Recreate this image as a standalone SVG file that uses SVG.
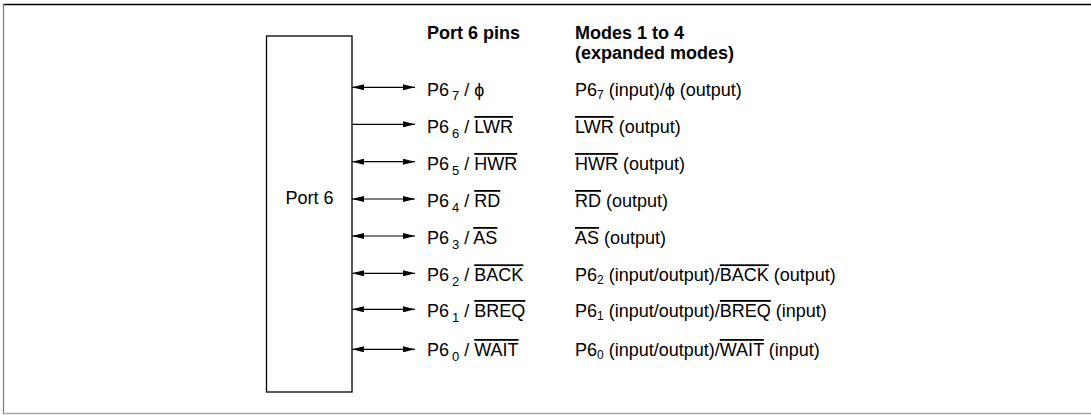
<svg xmlns="http://www.w3.org/2000/svg" width="1091" height="415" viewBox="0 0 1091 415">
  <style>
    text { font-family: "Liberation Sans", Arial, sans-serif; font-size: 18px; fill: #000; }
    .b { font-weight: bold; }
    .sub { font-size: 13px; }
    .sub2 { font-size: 12px; }
    .ol { text-decoration: overline; }
    .wire { stroke: #000; stroke-width: 1.2; fill: none; }
  </style>
  <defs>
    <marker id="ah" viewBox="0 0 12 6" refX="12" refY="3" markerWidth="12" markerHeight="6" markerUnits="userSpaceOnUse" orient="auto-start-reverse">
      <path d="M0,0 L12,3 L0,6 z" fill="#000"/>
    </marker>
  </defs>
  <rect width="1091" height="415" fill="#fff"/>
  <g id="frame">
    <line x1="3" y1="4.5" x2="1091" y2="4.5" stroke="#000" stroke-width="1.3"/>
    <line x1="3.5" y1="4" x2="3.5" y2="414" stroke="#808080" stroke-width="1.3"/>
    <line x1="3" y1="413.5" x2="1091" y2="413.5" stroke="#a8a8a8" stroke-width="1.3"/>
  </g>
  <g id="port6">
    <rect x="266.5" y="36" width="85.5" height="356" fill="none" stroke="#000" stroke-width="1.3"/>
    <text x="309.5" y="204" text-anchor="middle">Port 6</text>
  </g>
  <g id="headers">
    <text class="b" x="427" y="39">Port 6 pins</text>
    <text class="b" x="575" y="39">Modes 1 to 4</text>
    <text class="b" x="575" y="59">(expanded modes)</text>
  </g>
  <g id="connectors">
    <line class="wire" x1="352" y1="87.3" x2="415" y2="87.3" marker-start="url(#ah)" marker-end="url(#ah)"/>
    <line class="wire" x1="352" y1="124.3" x2="415" y2="124.3" marker-end="url(#ah)"/>
    <line class="wire" x1="352" y1="161.7" x2="415" y2="161.7" marker-start="url(#ah)" marker-end="url(#ah)"/>
    <line class="wire" x1="352" y1="199" x2="415" y2="199" marker-start="url(#ah)" marker-end="url(#ah)"/>
    <line class="wire" x1="352" y1="236" x2="415" y2="236" marker-start="url(#ah)" marker-end="url(#ah)"/>
    <line class="wire" x1="352" y1="273.3" x2="415" y2="273.3" marker-start="url(#ah)" marker-end="url(#ah)"/>
    <line class="wire" x1="352" y1="309.3" x2="415" y2="309.3" marker-start="url(#ah)" marker-end="url(#ah)"/>
    <line class="wire" x1="352" y1="349.3" x2="415" y2="349.3" marker-start="url(#ah)" marker-end="url(#ah)"/>
  </g>
  <g id="pins">
    <text x="427" y="95.5">P6<tspan class="sub" dx="3" dy="4.5">7</tspan><tspan dy="-4.5"> / ϕ</tspan></text>
    <text x="427" y="133">P6<tspan class="sub" dx="3" dy="4.5">6</tspan><tspan dy="-4.5"> / </tspan><tspan class="ol">LWR</tspan></text>
    <text x="427" y="170">P6<tspan class="sub" dx="3" dy="4.5">5</tspan><tspan dy="-4.5"> / </tspan><tspan class="ol">HWR</tspan></text>
    <text x="427" y="207">P6<tspan class="sub" dx="3" dy="4.5">4</tspan><tspan dy="-4.5"> / </tspan><tspan class="ol">RD</tspan></text>
    <text x="427" y="244">P6<tspan class="sub" dx="3" dy="4.5">3</tspan><tspan dy="-4.5"> / </tspan><tspan class="ol">AS</tspan></text>
    <text x="427" y="281.3">P6<tspan class="sub" dx="3" dy="4.5">2</tspan><tspan dy="-4.5"> / </tspan><tspan class="ol">BACK</tspan></text>
    <text x="427" y="317">P6<tspan class="sub" dx="3" dy="4.5">1</tspan><tspan dy="-4.5"> / </tspan><tspan class="ol">BREQ</tspan></text>
    <text x="427" y="356">P6<tspan class="sub" dx="3" dy="4.5">0</tspan><tspan dy="-4.5"> / </tspan><tspan class="ol">WAIT</tspan></text>
  </g>
  <g id="modes">
    <text x="575" y="95.5">P6<tspan class="sub2" dy="3">7</tspan><tspan dy="-3"> (input)/ϕ (output)</tspan></text>
    <text x="575" y="133"><tspan class="ol">LWR</tspan> (output)</text>
    <text x="575" y="170"><tspan class="ol">HWR</tspan> (output)</text>
    <text x="575" y="207"><tspan class="ol">RD</tspan> (output)</text>
    <text x="575" y="244"><tspan class="ol">AS</tspan> (output)</text>
    <text x="575" y="281.3">P6<tspan class="sub2" dy="3">2</tspan><tspan dy="-3"> (input/output)/</tspan><tspan class="ol">BACK</tspan> (output)</text>
    <text x="575" y="317">P6<tspan class="sub2" dy="3">1</tspan><tspan dy="-3"> (input/output)/</tspan><tspan class="ol">BREQ</tspan> (input)</text>
    <text x="575" y="356">P6<tspan class="sub2" dy="3">0</tspan><tspan dy="-3"> (input/output)/</tspan><tspan class="ol">WAIT</tspan> (input)</text>
  </g>
</svg>
